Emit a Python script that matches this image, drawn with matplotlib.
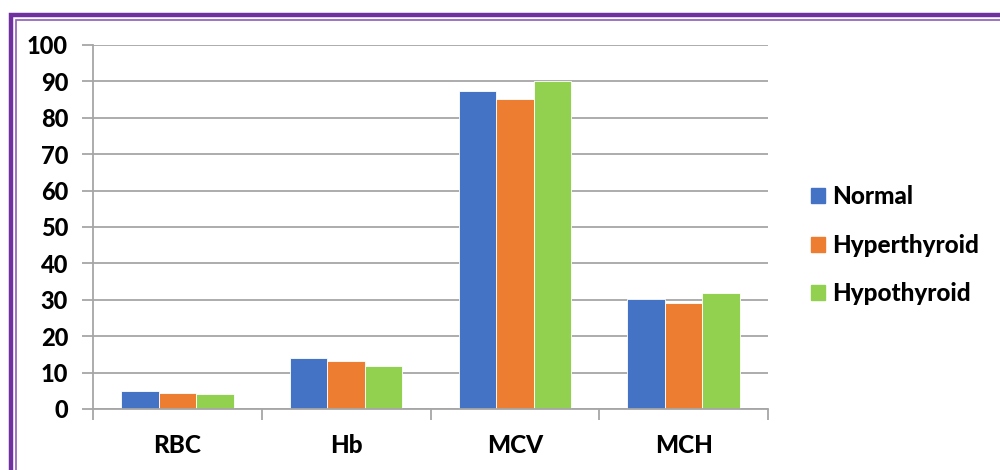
import numpy as np
import matplotlib
matplotlib.use("Agg")
import matplotlib.pyplot as plt
from matplotlib.patches import Rectangle

categories = ["RBC", "Hb", "MCV", "MCH"]
normal = [4.9, 14.0, 87.3, 30.2]
hyperthyroid = [4.5, 13.3, 85.1, 29.1]
hypothyroid = [4.2, 11.9, 90.0, 31.9]
series_names = ["Normal", "Hyperthyroid", "Hypothyroid"]
series_colors = ["#4472C4", "#ED7D31", "#92D050"]
y_ticks = list(range(0, 101, 10))

plt.rcParams["font.family"] = ["Lato", "DejaVu Sans"]
WEIGHT = 900

fig = plt.figure(figsize=(10, 4.7), dpi=100)
ax = fig.add_axes([0.093, 0.1298, 0.675, 0.7745])

grid_color = "#A6A6A6"
x = np.arange(len(categories))
bw = 1 / 4.5
for i, (vals, name, col) in enumerate(zip([normal, hyperthyroid, hypothyroid], series_names, series_colors)):
    ax.bar(x + (i - 1) * bw, vals, width=bw, color=col, label=name, zorder=3,
           edgecolor="white", linewidth=0.6)

ax.set_xlim(-0.5, len(categories) - 0.5)
ax.set_ylim(0, 100)
ax.set_yticks(y_ticks)
ax.set_yticklabels([str(t) for t in y_ticks], fontsize=17, fontweight=WEIGHT)
ax.yaxis.grid(True, color=grid_color, linewidth=1.3, zorder=0)
ax.tick_params(axis="y", length=8, width=1.3, color=grid_color, pad=10)

# category boundaries carry the x tick marks; labels sit at the centres
ax.set_xticks(np.arange(-0.5, len(categories), 1.0))
ax.set_xticklabels([])
ax.set_xticks(x, minor=True)
ax.set_xticklabels(categories, minor=True, fontsize=17.5, fontweight=WEIGHT)
ax.tick_params(axis="x", which="major", length=8, width=1.3, color=grid_color)
ax.tick_params(axis="x", which="minor", length=0, pad=18)

for side in ["top", "right"]:
    ax.spines[side].set_visible(False)
for side in ["left", "bottom"]:
    ax.spines[side].set_color(grid_color)
    ax.spines[side].set_linewidth(1.3)
    ax.spines[side].set_zorder(4)

handles = [Rectangle((0, 0), 1, 1, color=c) for c in series_colors]
leg = fig.legend(handles, series_names, loc="center left", bbox_to_anchor=(0.811, 0.478),
                 frameon=False, prop={"size": 17.5, "weight": WEIGHT},
                 handlelength=0.58, handleheight=0.58, handletextpad=0.3,
                 labelspacing=1.05, borderaxespad=0, borderpad=0)

# double purple frame around the chart area
W, H = 1000, 470
def px_rect(x0, y0, lw, color):
    fig.add_artist(Rectangle((x0 / W, -0.2), 1.5, (H - y0) / H + 0.2, transform=fig.transFigure,
                             fill=False, edgecolor=color, linewidth=lw))
px_rect(10.5, 15, 3.2, "#7030A0")
px_rect(15.5, 19.5, 1.2, "#8E5CB8")

fig.savefig("out.png", dpi=100, facecolor="white")
